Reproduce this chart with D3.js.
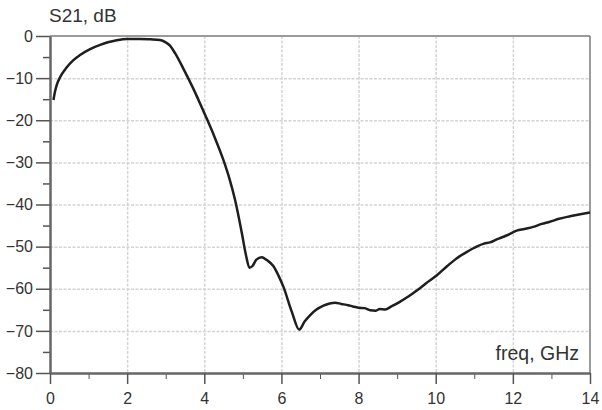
<!DOCTYPE html>
<html>
<head>
<meta charset="utf-8">
<script src="https://cdn.jsdelivr.net/npm/d3@7"></script>
<style>
  body { margin: 0; background: #fff; }
  .grid line { stroke: #d4d4d4; stroke-width: 1.5; stroke-dasharray: 3,1.5; }
  .grid path { stroke: none; }
  .axis text { font-family: "Liberation Sans", Arial, sans-serif; font-size: 16px; fill: #333; }
</style>
</head>
<body>
<div id="draw-area"></div>
<script>
// S21 (freq in GHz, magnitude in dB)
var freq = [0.09, 0.13, 0.18, 0.26, 0.43, 0.6, 0.78, 1.04, 1.3, 1.5, 1.73, 2.0, 2.33, 2.6, 2.85, 3.0, 3.11, 3.25,
            3.46, 3.7, 3.89, 4.02, 4.25, 4.49, 4.65, 4.8, 4.97, 5.08, 5.17, 5.25, 5.35, 5.49, 5.62, 5.79, 5.93,
            6.05, 6.27, 6.46, 6.6, 6.74, 6.9, 7.09, 7.25, 7.39, 7.55, 7.73, 7.85, 7.99, 8.15, 8.3, 8.45, 8.55,
            8.69, 8.85, 9.07, 9.3, 9.5, 9.75, 10.03, 10.3, 10.54, 10.8, 11.06, 11.25, 11.41, 11.58, 11.85, 12.1,
            12.3, 12.53, 12.75, 12.96, 13.2, 13.48, 13.75, 14.0];
var s21 = [-15.2, -13.2, -11.5, -9.8, -7.5, -5.8, -4.5, -3.1, -2.1, -1.5, -1.0, -0.7, -0.7, -0.8, -0.95, -1.5, -2.3, -4.2,
           -7.8, -12.2, -16.0, -18.7, -23.6, -29.3, -33.8, -39.0, -46.6, -52.0, -55.0, -54.6, -53.1, -52.5, -53.2, -54.6, -57.0,
           -59.5, -65.5, -69.7, -67.8, -66.3, -65.0, -64.0, -63.5, -63.3, -63.6, -63.9, -64.2, -64.5, -64.6, -65.1, -65.2, -64.8,
           -64.9, -64.2, -63.1, -61.8, -60.5, -58.7, -56.8, -54.6, -52.8, -51.3, -50.0, -49.3, -49.0, -48.3, -47.3, -46.2,
           -45.8, -45.3, -44.6, -44.1, -43.4, -42.8, -42.3, -41.9];

var xTicks = [0, 2, 4, 6, 8, 10, 12, 14];
var xMinor = [1, 3, 5, 7, 9, 11, 13];
var yTicks = [0, -10, -20, -30, -40, -50, -60, -70, -80];
var yMinor = [-5, -15, -25, -35, -45, -55, -65, -75];

var svgw = 602, svgh = 410;
var margin = {top: 36, right: 12, bottom: 37, left: 50};
var width = svgw - margin.left - margin.right;
var height = svgh - margin.top - margin.bottom;

var svg = d3.select("#draw-area").append("svg")
    .attr("width", svgw)
    .attr("height", svgh);

var g = svg.append("g")
    .attr("transform", "translate(" + margin.left + "," + margin.top + ")");

var x = d3.scaleLinear().domain([0, 14]).range([0, width]);
var y = d3.scaleLinear().domain([-80, 0]).range([height, 0]);

// dashed grid
g.append("g")
    .attr("class", "grid")
    .call(d3.axisBottom(x).tickValues(xTicks.slice(1, -1)).tickSize(height).tickFormat(""));
g.append("g")
    .attr("class", "grid")
    .call(d3.axisLeft(y).tickValues(yTicks.slice(1, -1)).tickSize(-width).tickFormat(""));

// frame top / right
g.append("line").attr("x1", 0).attr("x2", width).attr("y1", 0).attr("y2", 0)
    .style("stroke", "#9a9a9a").style("stroke-width", 2);
g.append("line").attr("x1", width).attr("x2", width).attr("y1", 0).attr("y2", height)
    .style("stroke", "#7a7a7a").style("stroke-width", 1.5);

// minor ticks
g.append("g")
    .attr("transform", "translate(0," + height + ")")
    .call(d3.axisBottom(x).tickValues(xMinor).tickSize(6).tickFormat(""))
    .call(function(s){ s.select(".domain").remove(); s.selectAll("line").attr("stroke", "#555"); });
g.append("g")
    .call(d3.axisLeft(y).tickValues(yMinor).tickSize(7).tickFormat(""))
    .call(function(s){ s.select(".domain").remove(); s.selectAll("line").attr("stroke", "#555").attr("stroke-width", 1.5); });

// main axes
g.append("g")
    .attr("class", "axis")
    .attr("transform", "translate(0," + height + ")")
    .call(d3.axisBottom(x).tickValues(xTicks).tickSize(11).tickPadding(9).tickSizeOuter(0))
    .call(function(s){
        s.select(".domain").attr("stroke", "#666").attr("stroke-width", 2.5);
        s.selectAll(".tick line").attr("stroke", "#555").attr("stroke-width", 1.5);
    });
g.append("g")
    .attr("class", "axis")
    .call(d3.axisLeft(y).tickValues(yTicks).tickSize(14).tickPadding(3).tickSizeOuter(0))
    .call(function(s){
        s.select(".domain").attr("stroke", "#666").attr("stroke-width", 2.5);
        s.selectAll(".tick line").attr("stroke", "#555").attr("stroke-width", 1.5);
    });

// the trace
var pts = freq.map(function(f, i){ return {f: f, v: s21[i]}; });
var valueline = d3.line()
    .curve(d3.curveMonotoneX)
    .x(function(d){ return x(d.f); })
    .y(function(d){ return y(d.v); });

g.append("path")
    .datum(pts)
    .attr("d", valueline)
    .style("fill", "none")
    .style("stroke", "#1e1e1e")
    .style("stroke-width", 2.5)
    .style("stroke-linejoin", "round");

// labels
svg.append("text")
    .attr("x", 49).attr("y", 22)
    .style("font-family", "Liberation Sans, Arial, sans-serif")
    .style("font-size", "19px")
    .style("fill", "#333")
    .text("S21, dB");

svg.append("text")
    .attr("x", 579).attr("y", 360)
    .attr("text-anchor", "end")
    .style("font-family", "Liberation Sans, Arial, sans-serif")
    .style("font-size", "19.5px")
    .style("fill", "#333")
    .text("freq, GHz");
</script>
</body>
</html>
